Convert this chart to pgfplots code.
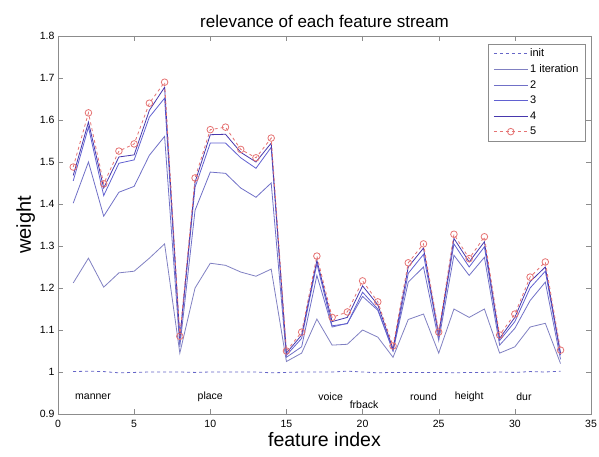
\documentclass[border=0pt]{standalone}
\usepackage{pgfplots}
\pgfplotsset{compat=1.18}
\usepackage{fontspec}
\setmainfont{Liberation Sans}
\usetikzlibrary{calc}

\definecolor{initc}{rgb}{0.40,0.40,0.78}
\definecolor{itA}{rgb}{0.50,0.50,0.76}
\definecolor{itB}{rgb}{0.44,0.44,0.78}
\definecolor{itC}{rgb}{0.38,0.38,0.82}
\definecolor{itD}{rgb}{0.28,0.22,0.68}
\definecolor{itE}{rgb}{0.90,0.45,0.45}
\definecolor{axgray}{rgb}{0.55,0.55,0.55}

\pgfplotstableread{
x init it1 it2 it3 it4 it5
1 1.001 1.212 1.402 1.455 1.468 1.488
2 1.002 1.271 1.500 1.583 1.595 1.617
3 1.001 1.202 1.371 1.420 1.438 1.448
4 0.998 1.236 1.428 1.497 1.512 1.526
5 0.999 1.240 1.442 1.505 1.517 1.543
6 1.000 1.271 1.516 1.607 1.623 1.640
7 1.000 1.305 1.561 1.652 1.678 1.690
8 1.000 1.045 1.060 1.075 1.080 1.085
9 0.999 1.200 1.385 1.440 1.452 1.462
10 1.000 1.259 1.476 1.545 1.565 1.577
11 1.000 1.254 1.473 1.545 1.566 1.583
12 1.000 1.238 1.438 1.510 1.523 1.530
13 1.000 1.228 1.416 1.485 1.500 1.510
14 0.998 1.245 1.450 1.535 1.545 1.557
15 0.999 1.025 1.035 1.040 1.045 1.050
16 1.000 1.045 1.060 1.080 1.088 1.095
17 1.000 1.126 1.230 1.258 1.266 1.276
18 1.000 1.064 1.107 1.110 1.120 1.130
19 1.002 1.066 1.116 1.115 1.130 1.143
20 1.000 1.100 1.180 1.190 1.205 1.217
21 0.998 1.083 1.147 1.150 1.160 1.167
22 0.999 1.035 1.050 1.050 1.055 1.062
23 0.999 1.125 1.214 1.235 1.250 1.260
24 0.999 1.138 1.250 1.280 1.295 1.305
25 0.999 1.045 1.075 1.085 1.090 1.095
26 0.998 1.150 1.278 1.305 1.318 1.328
27 0.999 1.130 1.230 1.250 1.262 1.270
28 0.999 1.150 1.273 1.298 1.310 1.322
29 1.000 1.045 1.064 1.075 1.080 1.088
30 0.999 1.060 1.104 1.120 1.130 1.138
31 1.001 1.107 1.170 1.200 1.215 1.226
32 1.000 1.116 1.214 1.240 1.250 1.262
33 1.002 1.020 1.030 1.040 1.045 1.052
}\weights

\begin{document}
\begin{tikzpicture}
\begin{axis}[
  scale only axis,
  width=533pt, height=378pt,
  xmin=0, xmax=35, ymin=0.9, ymax=1.8,
  xtick={0,5,...,35},
  ytick={0.9,1,1.1,1.2,1.3,1.4,1.5,1.6,1.7,1.8},
  yticklabels={0.9,1,1.1,1.2,1.3,1.4,1.5,1.6,1.7,1.8},
  /pgf/number format/assume math mode=true,
  tick label style={font=\fontsize{10.5}{12}\selectfont},
  xticklabel style={yshift=-3pt},
  axis line style={axgray},
  major tick style={axgray},
  major tick length=5pt,
  tick align=inside,
  title={relevance of each feature stream},
  title style={font=\fontsize{17}{20}\selectfont, yshift=-1pt},
  xlabel={feature index},
  ylabel={weight},
  xlabel style={font=\fontsize{19.5}{22}\selectfont, yshift=2pt},
  ylabel style={font=\fontsize{20}{22}\selectfont, yshift=-2pt},
  legend style={at={(0.99,0.98)}, anchor=north east, draw=axgray,
    font=\fontsize{11}{12}\selectfont, row sep=2.4pt, inner xsep=5pt, inner ysep=3pt},
  legend cell align=left,
  legend image code/.code={
    \draw[mark repeat=2,mark phase=2,#1] plot coordinates {(0pt,0pt) (17pt,0pt) (34pt,0pt)};
  },
  every axis plot/.append style={line width=0.8pt},
  clip=false,
]
\addplot[initc, dashed, no markers] table[x=x,y=init] {\weights};
\addlegendentry{init}
\addplot[itA, no markers] table[x=x,y=it1] {\weights};
\addlegendentry{1 iteration}
\addplot[itB, no markers] table[x=x,y=it2] {\weights};
\addlegendentry{2}
\addplot[itC, no markers] table[x=x,y=it3] {\weights};
\addlegendentry{3}
\addplot[itD, no markers] table[x=x,y=it4] {\weights};
\addlegendentry{4}
\addplot[itE, dashed, mark=o, mark size=3.3pt, mark options={solid}] table[x=x,y=it5] {\weights};
\addlegendentry{5}

\node[font=\fontsize{10.5}{12}\selectfont] at (axis cs:2.3,0.94) {manner};
\node[font=\fontsize{10.5}{12}\selectfont] at (axis cs:10.0,0.94) {place};
\node[font=\fontsize{10.5}{12}\selectfont] at (axis cs:17.9,0.94) {voice};
\node[font=\fontsize{10.5}{12}\selectfont] at (axis cs:20.1,0.922) {frback};
\node[font=\fontsize{10.5}{12}\selectfont] at (axis cs:24.0,0.94) {round};
\node[font=\fontsize{10.5}{12}\selectfont] at (axis cs:27.0,0.94) {height};
\node[font=\fontsize{10.5}{12}\selectfont] at (axis cs:30.6,0.94) {dur};
\end{axis}
\pgfresetboundingbox
\path[use as bounding box] ($(current axis.south west)+(-58pt,-43pt)$) rectangle ($(current axis.north east)+(8pt,36pt)$);
\end{tikzpicture}
\end{document}
